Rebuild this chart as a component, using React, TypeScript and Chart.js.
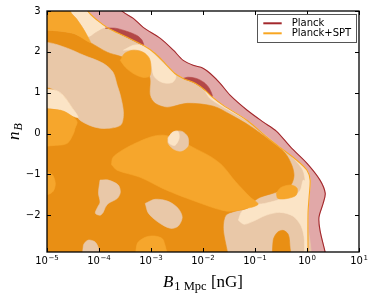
import React, { useEffect, useRef } from 'react';
import { Chart, registerables } from 'chart.js';

Chart.register(...registerables);

type P = [number, number];

// x axis: log10(B_1Mpc / nG); y axis: n_B
const xTickExponents = [-5, -4, -3, -2, -1, 0, 1];
const yTickValues = [-2, -1, 0, 1, 2, 3];
const legendNames = ['Planck', 'Planck+SPT'];
const xRange: P = [-5, 1];
const yRange: P = [-2.9, 3];

// outer (95%) contour of Planck
const planckBoundary: P[] = [
  [-3.63, 3.19], [-3.55, 2.99], [-3.34, 2.82], [-3.15, 2.6], [-2.82, 2.33], [-2.57, 2.04],
  [-2.38, 1.79], [-2.19, 1.67], [-2.0, 1.6], [-1.86, 1.47], [-1.67, 1.23], [-1.48, 0.94],
  [-1.15, 0.57], [-0.84, 0.28], [-0.59, 0.06], [-0.31, -0.34], [0.0, -0.73], [0.25, -1.14],
  [0.35, -1.46], [0.31, -1.71], [0.23, -2.05], [0.25, -2.37], [0.35, -2.91], [0.37, -3.05],
];

// outer (95%) contour of Planck+SPT
const sptBoundary: P[] = [
  [-4.24, 3.19], [-4.21, 2.99], [-4.03, 2.77], [-3.82, 2.58], [-3.5, 2.38], [-3.15, 2.16],
  [-2.92, 1.96], [-2.73, 1.72], [-2.54, 1.47], [-2.38, 1.35], [-2.15, 1.23], [-1.96, 1.06],
  [-1.82, 0.89], [-1.61, 0.69], [-1.15, 0.32], [-0.77, -0.09], [-0.52, -0.34], [-0.19, -0.66],
  [0.0, -0.9], [0.06, -1.14], [0.04, -1.56], [0.02, -1.95], [0.02, -2.91], [0.02, -3.05],
];

const planckFill: P[] = [...planckBoundary, [0.45, -3.4], [-5.6, -3.4], [-5.6, 3.5], [-3.7, 3.5]];
const sptFill: P[] = [...sptBoundary, [0.02, -3.4], [-5.6, -3.4], [-5.6, 3.5], [-4.28, 3.5]];

const overlapRegion: P[] = [
  [-5.6, 3.5], [-4.63, 3.5], [-4.55, 2.99], [-4.44, 2.82], [-4.32, 2.6], [-4.21, 2.36],
  [-4.05, 2.48], [-3.86, 2.58], [-3.5, 2.38], [-3.15, 2.16], [-2.92, 1.96], [-2.73, 1.72],
  [-2.54, 1.47], [-2.38, 1.35], [-2.15, 1.23], [-2.0, 1.08], [-1.86, 0.84], [-1.48, 0.54],
  [-1.09, 0.25], [-0.75, -0.09], [-0.48, -0.38], [-0.23, -0.66], [-0.09, -0.9], [-0.05, -1.14],
  [-0.05, -1.64], [-0.07, -3.4], [-5.6, -3.4],
];

const creamUpper: P[] = [
  [-3.53, 2.04], [-3.34, 2.16], [-3.15, 2.16], [-2.98, 1.99], [-2.78, 1.74], [-2.63, 1.55],
  [-2.52, 1.4], [-2.59, 1.25], [-2.78, 1.25], [-2.94, 1.4], [-3.02, 1.79], [-3.21, 2.04],
];

const creamLowerRight: P[] = [
  [-1.32, -2.12], [-1.25, -1.9], [-1.06, -1.76], [-0.81, -1.71], [-0.59, -1.64], [-0.44, -1.56],
  [-0.27, -1.54], [-0.13, -1.39], [-0.07, -1.14], [0.0, -1.26], [0.0, -3.4], [-0.05, -3.4],
  [-0.05, -2.61], [-0.11, -2.27], [-0.27, -2.02], [-0.52, -1.93], [-0.79, -2.0], [-1.04, -2.15],
  [-1.21, -2.22],
];

const coreMain: P[] = [
  [-5.6, 2.55], [-4.99, 2.53], [-4.49, 2.45], [-4.17, 2.23], [-3.84, 1.99], [-3.59, 1.89],
  [-3.3, 1.74], [-3.11, 1.6], [-3.02, 1.35], [-3.02, 0.94], [-2.92, 0.74], [-2.69, 0.64],
  [-2.3, 0.74], [-1.8, 0.67], [-1.48, 0.47], [-1.09, 0.18], [-0.71, -0.17], [-0.42, -0.48],
  [-0.29, -0.78], [-0.25, -1.02], [-0.29, -1.22], [-0.38, -1.34], [-0.65, -1.46], [-0.9, -1.56],
  [-1.04, -1.68], [-1.15, -1.83], [-1.38, -1.9], [-1.56, -2.0], [-1.61, -2.29], [-1.59, -3.4],
  [-5.6, -3.4],
];

const beigeLeft: P[] = [
  [-5.6, 2.23], [-4.99, 2.23], [-4.61, 2.09], [-4.3, 1.92], [-3.92, 1.72], [-3.73, 1.5],
  [-3.65, 1.18], [-3.59, 0.94], [-3.53, 0.5], [-3.59, 0.2], [-3.98, 0.13], [-4.36, 0.32],
  [-4.51, 0.62], [-4.69, 0.94], [-4.84, 1.06], [-4.99, 1.13], [-5.6, 1.13],
];

const creamWedge: P[] = [
  [-5.6, 1.16], [-4.84, 1.06], [-4.69, 0.94], [-4.51, 0.62], [-4.4, 0.4], [-4.49, 0.42],
  [-4.74, 0.57], [-4.99, 0.62], [-5.6, 0.62],
];

const lightTop: P[] = [
  [-5.6, 3.5], [-4.61, 3.5], [-4.55, 2.99], [-4.44, 2.82], [-4.32, 2.6], [-4.21, 2.36],
  [-4.17, 2.23], [-4.49, 2.45], [-4.99, 2.53], [-5.6, 2.55],
];

const lightLeft: P[] = [
  [-5.6, 0.62], [-4.74, 0.57], [-4.49, 0.4], [-4.42, 0.28], [-4.46, 0.13], [-4.49, 0.0],
  [-4.61, -0.24], [-4.84, -0.29], [-5.6, -0.29],
];

const lightBlob: P[] = [
  [-3.59, 1.79], [-3.51, 1.96], [-3.34, 2.04], [-3.15, 1.99], [-3.03, 1.84], [-3.0, 1.6],
  [-3.03, 1.4], [-3.17, 1.38], [-3.34, 1.47], [-3.49, 1.62],
];

const lightBand: P[] = [
  [-3.76, -0.76], [-3.73, -0.58], [-3.46, -0.34], [-3.02, -0.09], [-2.76, -0.04], [-2.48, -0.14],
  [-2.19, -0.34], [-1.86, -0.56], [-1.63, -0.78], [-1.38, -1.17], [-1.09, -1.56], [-0.94, -1.73],
  [-1.15, -1.83], [-1.54, -1.9], [-2.19, -1.64], [-2.73, -1.37], [-3.21, -1.07], [-3.65, -0.9],
];

const lightEdge: P[] = [
  [-5.6, -0.95], [-4.99, -0.95], [-4.89, -1.02], [-4.84, -1.22], [-4.88, -1.41], [-4.99, -1.49],
  [-5.6, -1.49],
];

const lightBottom: P[] = [
  [-3.3, -3.4], [-3.27, -2.71], [-3.11, -2.54], [-2.92, -2.51], [-2.76, -2.61], [-2.69, -3.4],
];

const lightRight: P[] = [
  [-0.59, -1.46], [-0.5, -1.32], [-0.31, -1.26], [-0.19, -1.34], [-0.21, -1.51], [-0.38, -1.59],
  [-0.56, -1.59],
];

const coreSpike: P[] = [
  [-0.67, -3.4], [-0.65, -2.61], [-0.57, -2.42], [-0.46, -2.37], [-0.36, -2.47], [-0.33, -2.74],
  [-0.31, -3.4],
];

const holeFish: P[] = [
  [-3.98, -1.14], [-3.82, -1.14], [-3.63, -1.26], [-3.59, -1.44], [-3.65, -1.59], [-3.82, -1.71],
  [-3.88, -1.81], [-3.92, -1.93], [-3.98, -2.0], [-4.07, -1.95], [-4.03, -1.81], [-3.98, -1.68],
  [-4.01, -1.46],
];

const holeOval: P[] = [
  [-3.11, -1.71], [-2.92, -1.61], [-2.67, -1.66], [-2.48, -1.83], [-2.4, -2.05], [-2.48, -2.27],
  [-2.63, -2.32], [-2.86, -2.17], [-3.05, -1.95],
];

const holeBottom: P[] = [
  [-4.32, -3.4], [-4.3, -2.74], [-4.21, -2.61], [-4.07, -2.66], [-4.0, -2.86], [-3.98, -3.4],
];

const holeIsland: P[] = [
  [-2.67, -0.09], [-2.55, 0.05], [-2.4, 0.05], [-2.29, -0.09], [-2.29, -0.31], [-2.42, -0.43],
  [-2.57, -0.38], [-2.67, -0.24],
];

const creamIsland: P[] = [
  [-2.67, -0.12], [-2.59, 0.03], [-2.48, 0.05], [-2.46, -0.12], [-2.54, -0.29], [-2.65, -0.24],
];

// Planck 68% contour pieces lying outside Planck+SPT
const planckCoreA: P[] = [
  [-3.88, 2.58], [-3.69, 2.58], [-3.46, 2.5], [-3.27, 2.4], [-3.18, 2.3], [-3.14, 2.18],
  [-3.15, 2.16], [-3.5, 2.38], [-3.82, 2.58],
];
const planckCoreB: P[] = [
  [-2.38, 1.35], [-2.29, 1.38], [-2.13, 1.35], [-1.98, 1.25], [-1.88, 1.11], [-1.82, 0.91],
  [-1.96, 1.06], [-2.15, 1.23],
];

const PINK = '#e1a8a8';
const PLANCK_RED = '#a3282c';
const SLIVER_RED = '#b34747';
const CREAM = '#fbe4c6';
const BEIGE = '#e9c8a8';
const LIGHT_OR = '#f6a62c';
const DARK_OR = '#e98f14';
const SPT_OR = '#f8a621';

const toXY = (pts: P[]) => pts.map(([x, y]) => ({ x, y }));

function buildDatasets() {
  const fills: [P[], string][] = [
    [planckFill, PINK],
    [sptFill, CREAM],
    [overlapRegion, BEIGE],
    [creamLowerRight, CREAM],
    [creamUpper, CREAM],
    [coreMain, DARK_OR],
    [beigeLeft, BEIGE],
    [creamWedge, CREAM],
    [lightTop, LIGHT_OR],
    [lightLeft, LIGHT_OR],
    [lightBlob, LIGHT_OR],
    [lightBand, LIGHT_OR],
    [lightEdge, LIGHT_OR],
    [lightBottom, LIGHT_OR],
    [lightRight, LIGHT_OR],
    [coreSpike, DARK_OR],
    [holeFish, BEIGE],
    [holeOval, BEIGE],
    [holeBottom, BEIGE],
    [holeIsland, BEIGE],
    [creamIsland, CREAM],
    [planckCoreA, SLIVER_RED],
    [planckCoreB, SLIVER_RED],
  ];
  const layers: any[] = fills.map(([pts, color]) => ({
    data: toXY([...pts, pts[0]]),
    showLine: true,
    fill: 'shape',
    backgroundColor: color,
    borderColor: color,
    borderWidth: 0.6,
    pointRadius: 0,
    pointHoverRadius: 0,
    tension: 0.3,
  }));
  layers.push({
    data: toXY(planckBoundary), showLine: true, fill: false, borderColor: PLANCK_RED,
    borderWidth: 1.1, pointRadius: 0, pointHoverRadius: 0, tension: 0.3,
  });
  layers.push({
    data: toXY(sptBoundary), showLine: true, fill: false, borderColor: SPT_OR,
    borderWidth: 1.1, pointRadius: 0, pointHoverRadius: 0, tension: 0.3,
  });
  const n = layers.length;
  return layers.map((d, i) => ({ ...d, order: n - i }));
}

const decor = {
  id: 'decor',
  beforeDatasetsDraw(chart: any) {
    const { ctx, chartArea: a } = chart;
    ctx.save();
    ctx.beginPath();
    ctx.rect(a.left, a.top, a.right - a.left, a.bottom - a.top);
    ctx.clip();
  },
  afterDatasetsDraw(chart: any) {
    chart.ctx.restore();
  },
  afterDraw(chart: any) {
    const { ctx, chartArea: a } = chart;
    const xs = chart.scales.x;
    const ys = chart.scales.y;
    ctx.save();
    // inward ticks
    ctx.strokeStyle = '#000';
    ctx.lineWidth = 1;
    ctx.beginPath();
    for (const e of xTickExponents) {
      const px = Math.round(xs.getPixelForValue(e)) + 0.5;
      ctx.moveTo(px, a.bottom); ctx.lineTo(px, a.bottom - 4);
      ctx.moveTo(px, a.top); ctx.lineTo(px, a.top + 4);
    }
    for (const v of yTickValues) {
      const py = Math.round(ys.getPixelForValue(v)) + 0.5;
      ctx.moveTo(a.left, py); ctx.lineTo(a.left + 4, py);
      ctx.moveTo(a.right, py); ctx.lineTo(a.right - 4, py);
    }
    ctx.stroke();
    // frame
    ctx.lineWidth = 1.3;
    ctx.strokeRect(a.left, a.top, a.right - a.left, a.bottom - a.top);

    // x tick labels 10^n
    ctx.fillStyle = '#000';
    ctx.textAlign = 'left';
    ctx.textBaseline = 'alphabetic';
    for (const e of xTickExponents) {
      const px = xs.getPixelForValue(e);
      const base = '10';
      const exp = e < 0 ? '\u2212' + Math.abs(e) : String(e);
      ctx.font = '10px "DejaVu Sans"';
      const w1 = ctx.measureText(base).width;
      ctx.font = '7px "DejaVu Sans"';
      const w2 = ctx.measureText(exp).width;
      const x0 = px - (w1 + w2 + 0.5) / 2;
      ctx.font = '10px "DejaVu Sans"';
      ctx.fillText(base, x0, a.bottom + 11.5);
      ctx.font = '7px "DejaVu Sans"';
      ctx.fillText(exp, x0 + w1 + 0.5, a.bottom + 7.5);
    }
    // y tick labels
    ctx.font = '10px "DejaVu Sans"';
    ctx.textAlign = 'right';
    ctx.textBaseline = 'middle';
    for (const v of yTickValues) {
      const py = ys.getPixelForValue(v);
      const label = v < 0 ? '\u2212' + Math.abs(v) : String(v);
      ctx.fillText(label, a.left - 6.5, py);
    }

    // x title: B_{1 Mpc} [nG]
    ctx.textAlign = 'left';
    ctx.textBaseline = 'alphabetic';
    const big = '17px "Liberation Serif"';
    const bigIt = 'italic 17px "Liberation Serif"';
    const small = '12.5px "Liberation Serif"';
    ctx.font = bigIt; const wB = ctx.measureText('B').width;
    ctx.font = small; const wSub = ctx.measureText('1 Mpc').width;
    ctx.font = big; const wU = ctx.measureText(' [nG]').width;
    const tot = wB + 1 + wSub + wU;
    let tx = (a.left + a.right) / 2 - tot / 2;
    const ty = a.bottom + 34.5;
    ctx.font = bigIt; ctx.fillText('B', tx, ty); tx += wB + 1;
    ctx.font = small; ctx.fillText('1 Mpc', tx, ty + 3.5); tx += wSub;
    ctx.font = big; ctx.fillText(' [nG]', tx, ty);

    // y title: n_B
    ctx.save();
    ctx.translate(18.5, (a.top + a.bottom) / 2);
    ctx.rotate(-Math.PI / 2);
    ctx.font = bigIt; const wn = ctx.measureText('n').width;
    ctx.font = 'italic 12px "Liberation Serif"'; const wb = ctx.measureText('B').width;
    const sx = -(wn + wb + 1) / 2;
    ctx.font = bigIt; ctx.fillText('n', sx, 0);
    ctx.font = 'italic 12px "Liberation Serif"'; ctx.fillText('B', sx + wn + 1, 3.5);
    ctx.restore();

    // legend
    const lx = a.right - 102.3;
    const ly = a.top + 3;
    const lw = 99.3;
    const lh = 27.7;
    ctx.fillStyle = '#fff';
    ctx.fillRect(lx, ly, lw, lh);
    ctx.strokeStyle = '#555';
    ctx.lineWidth = 1;
    ctx.strokeRect(Math.round(lx) + 0.5, Math.round(ly) + 0.5, Math.round(lw), Math.round(lh));
    const legendColors = [PLANCK_RED, SPT_OR];
    ctx.font = '10px "DejaVu Sans"';
    ctx.textAlign = 'left';
    ctx.textBaseline = 'middle';
    legendNames.forEach((name, i) => {
      const yy = ly + 9.3 + i * 10;
      ctx.strokeStyle = legendColors[i];
      ctx.lineWidth = 2;
      ctx.beginPath();
      ctx.moveTo(lx + 6.6, yy); ctx.lineTo(lx + 25, yy);
      ctx.stroke();
      ctx.fillStyle = '#000';
      ctx.fillText(name, lx + 35, yy + 0.5);
    });
    ctx.restore();
  },
};

export default function App() {
  const ref = useRef<HTMLCanvasElement>(null);
  useEffect(() => {
    const canvas = ref.current;
    if (!canvas) return;
    const chart = new Chart(canvas, {
      type: 'scatter',
      data: { datasets: buildDatasets() as any },
      options: {
        responsive: false,
        animation: false,
        devicePixelRatio: 1,
        events: [],
        layout: { padding: { left: 47, top: 11, right: 15, bottom: 44 } },
        scales: {
          x: { type: 'linear', min: xRange[0], max: xRange[1], display: false },
          y: { type: 'linear', min: yRange[0], max: yRange[1], display: false },
        },
        plugins: { legend: { display: false }, tooltip: { enabled: false } },
      } as any,
      plugins: [decor as any],
    });
    return () => chart.destroy();
  }, []);
  return (
    <div style={{ position: 'fixed', left: 0, top: 0, width: 374, height: 296, background: '#fff' }}>
      <canvas ref={ref} width={374} height={296} style={{ display: 'block', width: 374, height: 296 }} />
    </div>
  );
}
